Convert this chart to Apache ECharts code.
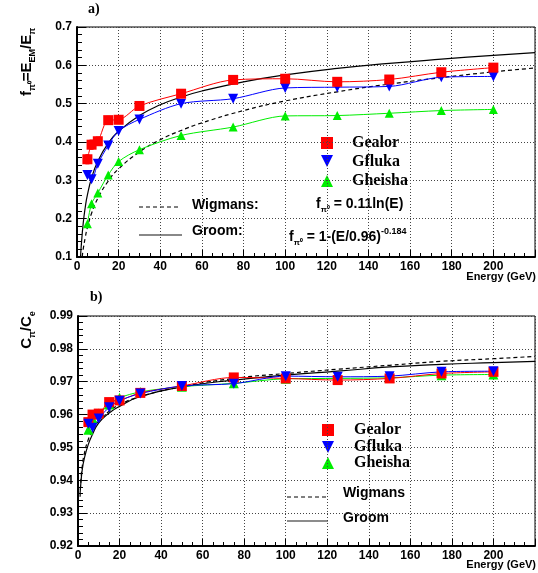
<!DOCTYPE html>
<html>
<head>
<meta charset="utf-8">
<script src="https://cdn.jsdelivr.net/npm/echarts@6/dist/echarts.min.js"></script>
<style>html,body{margin:0;padding:0;background:#fff;}#c{width:538px;height:573px;}</style>
</head>
<body>
<div id="c"></div>
<script>
// ---- data ----
const energies = [5, 7, 10, 15, 20, 30, 50, 75, 100, 125, 150, 175, 200];
// panel a) f_pi0
const fGealor  = [0.355, 0.393, 0.402, 0.457, 0.458, 0.494, 0.526, 0.562, 0.565, 0.557, 0.563, 0.582, 0.594];
const fGealorErr = [0.012, 0.012, 0.011, 0.010, 0.010, 0.009, 0.008, 0.007, 0.007, 0.007, 0.007, 0.007, 0.007];
const fGfluka  = [0.314, 0.303, 0.343, 0.391, 0.429, 0.459, 0.500, 0.513, 0.541, 0.543, 0.545, 0.569, 0.571];
const fGheisha = [0.187, 0.239, 0.267, 0.314, 0.349, 0.380, 0.417, 0.439, 0.468, 0.469, 0.475, 0.482, 0.485];
const fGroomE  = [1.7, 2, 3, 4, 5, 7, 10, 15, 20, 30, 40, 50, 60, 80, 100, 125, 150, 175, 200, 220];
const fGroom   = [0.100, 0.126, 0.189, 0.231, 0.262, 0.306, 0.350, 0.397, 0.428, 0.469, 0.497, 0.517, 0.533, 0.557, 0.575, 0.592, 0.605, 0.616, 0.626, 0.633];
const fWigE    = [2.5, 3, 4, 5, 7, 10, 15, 20, 30, 40, 50, 60, 80, 100, 125, 150, 175, 200, 220];
const fWig     = [0.101, 0.121, 0.152, 0.177, 0.214, 0.253, 0.298, 0.330, 0.374, 0.406, 0.430, 0.450, 0.482, 0.507, 0.531, 0.551, 0.568, 0.583, 0.593];
// panel b) C_pi / C_e
const cGealor  = [0.9577, 0.9600, 0.9603, 0.9638, 0.9643, 0.9666, 0.9687, 0.9713, 0.9710, 0.9705, 0.9710, 0.9725, 0.9730];
const cGfluka  = [0.9572, 0.9560, 0.9588, 0.9622, 0.9642, 0.9664, 0.9687, 0.9694, 0.9717, 0.9715, 0.9717, 0.9730, 0.9732];
const cGheisha = [0.9554, 0.9588, 0.9603, 0.9631, 0.9651, 0.9669, 0.9685, 0.9695, 0.9709, 0.9710, 0.9712, 0.9720, 0.9722];
const cCurveE  = [1, 1.5, 2, 3, 5, 7, 10, 15, 20, 30, 50, 75, 100, 125, 150, 175, 200, 220];
const cWig     = [0.935, 0.941, 0.944, 0.948, 0.9525, 0.955, 0.958, 0.961, 0.963, 0.9655, 0.9685, 0.971, 0.9725, 0.9738, 0.975, 0.9762, 0.977, 0.9777];
const cGroom   = [0.936, 0.940, 0.943, 0.9465, 0.951, 0.954, 0.9575, 0.9605, 0.9625, 0.9655, 0.9684, 0.9705, 0.972, 0.9732, 0.9745, 0.9753, 0.9758, 0.9762];
const xTicks = [0, 20, 40, 60, 80, 100, 120, 140, 160, 180, 200];

// ---- helpers ----
const pair = (xs, ys) => xs.map((x, i) => [x, ys[i]]);
const SANS = 'Liberation Sans, Arial, Helvetica, sans-serif';
const SERIF = 'Liberation Serif, Times New Roman, serif';
const RED = '#ff0000', BLUE = '#0000ff', GREEN = '#00ee00';

function xAxisCfg(gi) {
  return {
    type: 'value', gridIndex: gi, min: 0, max: 220, interval: 20,
    axisLine: { show: true, onZero: false, lineStyle: { color: '#000', width: 2 } },
    axisTick: { show: true, inside: true, length: 7, lineStyle: { color: '#000', width: 1 } },
    minorTick: { show: true, splitNumber: 4, length: 4, lineStyle: { color: '#000' } },
    axisLabel: { color: '#000', fontFamily: SANS, fontWeight: 'bold', fontSize: 12, margin: 4,
      formatter: v => (xTicks.indexOf(v) >= 0 ? String(v) : '') },
    splitLine: { show: true, lineStyle: { color: '#444', type: [1, 2], width: 1 } }
  };
}
function yAxisCfg(gi, min, max, interval, dec) {
  return {
    type: 'value', gridIndex: gi, min: min, max: max, interval: interval,
    axisLine: { show: true, onZero: false, lineStyle: { color: '#000', width: 2 } },
    axisTick: { show: true, inside: true, length: 9, lineStyle: { color: '#000', width: 1 } },
    minorTick: { show: true, splitNumber: 5, length: 5, lineStyle: { color: '#000' } },
    axisLabel: { color: '#000', fontFamily: SANS, fontWeight: 'bold', fontSize: 12, margin: 5,
      formatter: v => v.toFixed(dec) },
    splitLine: { show: true, lineStyle: { color: '#444', type: [1, 2], width: 1 } }
  };
}
function dataLine(name, xi, ys, color, symbol, rot, size) {
  return {
    name: name, type: 'line', xAxisIndex: xi, yAxisIndex: xi,
    data: pair(energies, ys), smooth: 0.3,
    symbol: symbol, symbolRotate: rot, symbolSize: size, showSymbol: true,
    lineStyle: { color: color, width: 1 }, itemStyle: { color: color },
    z: 5, animation: false
  };
}
function curve(name, xi, xs, ys, dashed) {
  return {
    name: name, type: 'line', xAxisIndex: xi, yAxisIndex: xi,
    data: pair(xs, ys), smooth: true, symbol: 'none',
    lineStyle: { color: '#000', width: 1.2, type: dashed ? [4, 3] : 'solid' },
    z: 4, animation: false, clip: true
  };
}

const errSeries = {
  type: 'custom', xAxisIndex: 0, yAxisIndex: 0, z: 6, animation: false,
  data: energies.map((e, i) => [e, fGealor[i], fGealorErr[i]]),
  renderItem: (params, api) => {
    const x = api.value(0), y = api.value(1), e = api.value(2);
    const p1 = api.coord([x, y - e]), p2 = api.coord([x, y + e]);
    return { type: 'group', children: [
      { type: 'line', shape: { x1: p1[0], y1: p1[1], x2: p2[0], y2: p2[1] }, style: { stroke: RED, lineWidth: 1 } },
      { type: 'line', shape: { x1: p1[0] - 2, y1: p1[1], x2: p1[0] + 2, y2: p1[1] }, style: { stroke: RED, lineWidth: 1 } },
      { type: 'line', shape: { x1: p2[0] - 2, y1: p2[1], x2: p2[0] + 2, y2: p2[1] }, style: { stroke: RED, lineWidth: 1 } }
    ] };
  }
};

// ---- graphic annotations ----
const rich = {
  b: { fontFamily: SANS, fontWeight: 'bold', fontSize: 15, lineHeight: 20, verticalAlign: 'middle', fill: '#000' },
  s: { fontFamily: SANS, fontWeight: 'bold', fontSize: 9, lineHeight: 20, verticalAlign: 'bottom', padding: [0, 0, 0, 0], fill: '#000' }
};
const rich2 = {
  b: { fontFamily: SANS, fontWeight: 'bold', fontSize: 14, lineHeight: 20, verticalAlign: 'middle', fill: '#000' },
  s: { fontFamily: SANS, fontWeight: 'bold', fontSize: 8, lineHeight: 20, verticalAlign: 'bottom', fill: '#000' },
  u: { fontFamily: SANS, fontWeight: 'bold', fontSize: 9, lineHeight: 20, verticalAlign: 'top', fill: '#000' }
};
function txt(x, y, text, font, size, align) {
  return { type: 'text', x: x, y: y, style: { text: text, fontFamily: font, fontWeight: 'bold', fontSize: size, fill: '#000', align: align || 'left', verticalAlign: 'middle' } };
}
function seg(x1, y1, x2, y2, dashed, color, w) {
  return { type: 'line', shape: { x1: x1, y1: y1, x2: x2, y2: y2 }, style: { stroke: color || '#000', lineWidth: w || 1, lineDash: dashed ? [4, 3] : null } };
}
function mark(x, y, kind, color, s) {
  if (kind === 'rect') return { type: 'rect', shape: { x: x - s / 2, y: y - s / 2, width: s, height: s }, style: { fill: color } };
  if (kind === 'down') return { type: 'polygon', shape: { points: [[x - s / 2, y - s / 2], [x + s / 2, y - s / 2], [x, y + s / 2]] }, style: { fill: color } };
  return { type: 'polygon', shape: { points: [[x - s / 2, y + s / 2], [x + s / 2, y + s / 2], [x, y - s / 2]] }, style: { fill: color } };
}

const graphics = [
  txt(88, 9, 'a)', SERIF, 14),
  txt(90, 297, 'b)', SERIF, 14),
  txt(536, 277, 'Energy (GeV)', SANS, 11, 'right'),
  txt(536, 565, 'Energy (GeV)', SANS, 11, 'right'),
  { type: 'text', x: 27, y: 62, rotation: Math.PI / 2,
    style: { text: '{b|f}{s|π⁰}{b|=E}{s|EM}{b|/E}{s|π}', rich: rich, align: 'center', verticalAlign: 'middle' } },
  { type: 'text', x: 27, y: 330, rotation: Math.PI / 2,
    style: { text: '{b|C}{s|π}{b|/C}{s|e}', rich: rich, align: 'center', verticalAlign: 'middle' } },
  // panel a legend
  mark(327, 143, 'rect', RED, 12), txt(352, 143, 'Gealor', SERIF, 16),
  mark(327, 161, 'down', BLUE, 12), txt(352, 162, 'Gfluka', SERIF, 16),
  mark(327, 181, 'up', GREEN, 12), txt(352, 181, 'Gheisha', SERIF, 16),
  seg(139, 207, 180, 207, true), txt(192, 205, 'Wigmans:', SANS, 14),
  seg(139, 235, 182, 235, false, '#888', 2), txt(192, 231, 'Groom:', SANS, 14),
  { type: 'text', x: 316, y: 204, style: { text: '{b|f}{s|π⁰}{b| = 0.11ln(E)}', rich: rich2, align: 'left', verticalAlign: 'middle' } },
  { type: 'text', x: 289, y: 237, style: { text: '{b|f}{s|π⁰}{b| = 1-(E/0.96)}{u|-0.184}', rich: rich2, align: 'left', verticalAlign: 'middle' } },
  // panel b legend
  mark(328, 430, 'rect', RED, 12), txt(354, 430, 'Gealor', SERIF, 16),
  mark(328, 447, 'down', BLUE, 12), txt(354, 447, 'Gfluka', SERIF, 16),
  mark(328, 463, 'up', GREEN, 12), txt(354, 463, 'Gheisha', SERIF, 16),
  seg(287, 497, 327, 497, true), txt(343, 493, 'Wigmans', SANS, 14),
  seg(287, 521, 328, 521, false, '#666', 1.5), txt(343, 518, 'Groom', SANS, 14)
];

const chart = echarts.init(document.getElementById('c'), null, { renderer: 'canvas' });
chart.setOption({
  backgroundColor: '#fff',
  animation: false,
  grid: [
    { left: 77, right: 2, top: 27, height: 230, show: true, borderColor: '#000', borderWidth: 1, backgroundColor: 'transparent' },
    { left: 78, right: 2, top: 316, height: 230, show: true, borderColor: '#000', borderWidth: 1, backgroundColor: 'transparent' }
  ],
  xAxis: [xAxisCfg(0), xAxisCfg(1)],
  yAxis: [yAxisCfg(0, 0.1, 0.7, 0.1, 1), yAxisCfg(1, 0.92, 0.99, 0.01, 2)],
  series: [
    curve('Wigmans', 0, fWigE, fWig, true),
    curve('Groom', 0, fGroomE, fGroom, false),
    dataLine('Gheisha', 0, fGheisha, GREEN, 'triangle', 0, 9),
    dataLine('Gfluka', 0, fGfluka, BLUE, 'triangle', 180, 10),
    dataLine('Gealor', 0, fGealor, RED, 'rect', 0, 10),
    errSeries,
    curve('Wigmans b', 1, cCurveE, cWig, true),
    curve('Groom b', 1, cCurveE, cGroom, false),
    dataLine('Gheisha b', 1, cGheisha, GREEN, 'triangle', 0, 10),
    dataLine('Gealor b', 1, cGealor, RED, 'rect', 0, 10),
    dataLine('Gfluka b', 1, cGfluka, BLUE, 'triangle', 180, 10)
  ],
  graphic: graphics
});
</script>
</body>
</html>
